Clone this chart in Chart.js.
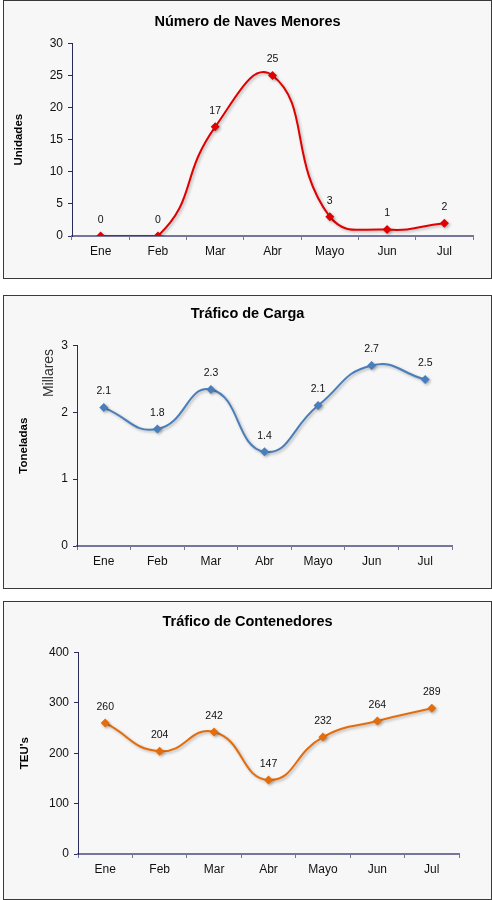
<!DOCTYPE html>
<html>
<head>
<meta charset="utf-8">
<script src="https://cdn.jsdelivr.net/npm/chart.js@4"></script>
<style>
  body { margin: 0; background: #fff; }
  .box { position: absolute; left: 3px; width: 489px; box-sizing: border-box;
         border: 1px solid #3a3a3a; background: #f7f7f7; }
  canvas { display: block; }
</style>
</head>
<body>
<div class="box" style="top:0px;height:279px"><canvas id="naves" width="487" height="277"></canvas></div>
<div class="box" style="top:295px;height:294px"><canvas id="carga" width="487" height="292"></canvas></div>
<div class="box" style="top:601px;height:299px"><canvas id="conte" width="487" height="297"></canvas></div>
<script>
// data
const months = ['Ene', 'Feb', 'Mar', 'Abr', 'Mayo', 'Jun', 'Jul'];
const navesMenores = [0, 0, 17, 25, 3, 1, 2];
const cargaMillares = [2.07, 1.75, 2.34, 1.41, 2.1, 2.7, 2.49];
const contenedores = [260, 204, 242, 147, 232, 264, 289];
const navesTicks = [0, 5, 10, 15, 20, 25, 30];
const cargaTicks = [0, 1, 2, 3];
const conteTicks = [0, 100, 200, 300, 400];

const FONT = "'Liberation Sans', Arial, sans-serif";

// value labels above each point
const valueLabels = {
  id: 'valueLabels',
  afterDatasetsDraw(chart, args, opts) {
    const ctx = chart.ctx;
    chart.data.datasets.forEach((ds, i) => {
      chart.getDatasetMeta(i).data.forEach((pt, j) => {
        ctx.save();
        ctx.font = '10.5px ' + FONT;
        ctx.fillStyle = '#111';
        ctx.textAlign = 'center';
        ctx.textBaseline = 'middle';
        ctx.fillText(ds.data[j].toFixed(opts.decimals || 0), pt.x, pt.y - 16);
        ctx.restore();
      });
    });
  }
};

// soft shadow under the line like excel
const lineShadow = {
  id: 'lineShadow',
  beforeDatasetDraw(chart) {
    const ctx = chart.ctx;
    ctx.save();
    ctx.shadowColor = 'rgba(0,0,0,0.28)';
    ctx.shadowBlur = 3;
    ctx.shadowOffsetX = 1.5;
    ctx.shadowOffsetY = 1.5;
  },
  afterDatasetDraw(chart) {
    chart.ctx.restore();
  }
};

// display unit label ("Millares")
const unitLabel = {
  id: 'unitLabel',
  afterDraw(chart, args, opts) {
    if (!opts.text) return;
    const ctx = chart.ctx;
    ctx.save();
    ctx.translate(opts.x, opts.y);
    ctx.rotate(-Math.PI / 2);
    ctx.font = '14px ' + FONT;
    ctx.fillStyle = '#333';
    ctx.textAlign = 'center';
    ctx.textBaseline = 'middle';
    ctx.fillText(opts.text, 0, 0);
    ctx.restore();
  }
};

function makeChart(id, c) {
  return new Chart(document.getElementById(id), {
    type: 'line',
    data: {
      labels: months,
      datasets: [{
        data: c.data,
        borderColor: c.color,
        backgroundColor: c.color,
        borderWidth: 2,
        tension: 0.5,
        pointStyle: 'rectRot',
        pointRadius: 4.5,
        pointBorderWidth: 0
      }]
    },
    options: {
      responsive: false,
      animation: false,
      events: [],
      layout: { padding: 0 },
      plugins: {
        legend: { display: false },
        tooltip: { enabled: false },
        title: {
          display: true,
          text: c.title,
          color: '#000',
          font: { family: FONT, size: 14.5, weight: 'bold' },
          padding: { top: c.titleTop, bottom: c.titleBottom }
        },
        valueLabels: { decimals: c.decimals },
        unitLabel: c.unit || {}
      },
      scales: {
        x: {
          offset: true,
          grid: { offset: true, drawOnChartArea: false, drawTicks: true, tickLength: 4, color: '#76769a' },
          border: { display: true, color: '#76769a', width: 2 },
          ticks: { color: '#111', font: { family: FONT, size: 12 }, padding: 4 },
          afterFit: s => { s.height = c.xh; }
        },
        y: {
          min: c.ticks[0],
          max: c.ticks[c.ticks.length - 1],
          ticks: { stepSize: c.ticks[1] - c.ticks[0], color: '#111', font: { family: FONT, size: 12 }, padding: 5 },
          grid: { drawOnChartArea: false, drawTicks: true, tickLength: 4, color: '#2a2a5e' },
          border: { display: true, color: '#2a2a5e', width: 1 },
          title: {
            display: true,
            text: c.yTitle,
            color: '#000',
            font: { family: FONT, size: 11.5, weight: 'bold' },
            padding: { top: c.yTitlePad, bottom: 0 }
          },
          afterFit: s => { s.width = c.yw; }
        },
        // empty spacer on the right so the title stays centred on the box
        spacer: {
          type: 'linear',
          position: 'right',
          grid: { display: false },
          border: { display: false },
          ticks: { display: false },
          afterFit: s => { s.width = c.right; }
        }
      }
    },
    plugins: [lineShadow, valueLabels, unitLabel]
  });
}

makeChart('naves', {
  data: navesMenores, ticks: navesTicks, color: '#e00000',
  title: 'Número de Naves Menores', yTitle: 'Unidades', decimals: 0,
  titleTop: 12, titleBottom: 13, yw: 68, xh: 42, right: 18, yTitlePad: 8
});

makeChart('carga', {
  data: cargaMillares, ticks: cargaTicks, color: '#4a7ebb',
  title: 'Tráfico de Carga', yTitle: 'Toneladas', decimals: 1,
  titleTop: 9, titleBottom: 23, yw: 73, xh: 42, right: 39, yTitlePad: 13,
  unit: { text: 'Millares', x: 45, y: 77 }
});

makeChart('conte', {
  data: contenedores, ticks: conteTicks, color: '#e46c0a',
  title: 'Tráfico de Contenedores', yTitle: "TEU's", decimals: 0,
  titleTop: 11, titleBottom: 22, yw: 74, xh: 45, right: 32, yTitlePad: 14
});
</script>
</body>
</html>
